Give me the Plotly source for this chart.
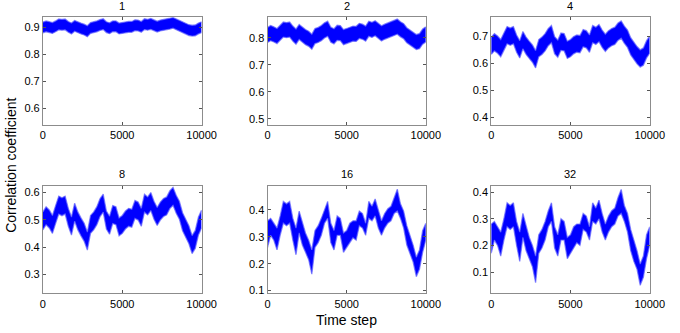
import plotly.graph_objects as go

# Time steps at which the envelope was read (every 200 steps)
steps = list(range(0, 10001, 200))

panel_titles = ["1", "2", "4", "8", "16", "32"]

lo_1 = [0.880,0.884,0.881,0.878,0.884,0.891,0.890,0.891,0.882,0.876,0.886,0.880,0.876,0.872,0.866,0.878,0.880,0.884,0.889,0.892,0.881,0.877,0.884,0.884,0.876,0.878,0.881,0.882,0.882,0.888,0.887,0.882,0.892,0.890,0.893,0.887,0.883,0.887,0.889,0.890,0.894,0.897,0.891,0.887,0.879,0.875,0.870,0.868,0.869,0.876,0.881]
hi_1 = [0.920,0.924,0.921,0.918,0.924,0.931,0.930,0.931,0.922,0.916,0.926,0.920,0.916,0.912,0.906,0.918,0.920,0.924,0.929,0.932,0.921,0.917,0.924,0.924,0.916,0.918,0.921,0.922,0.922,0.928,0.927,0.922,0.932,0.930,0.933,0.927,0.923,0.927,0.929,0.930,0.934,0.937,0.931,0.927,0.919,0.915,0.910,0.908,0.909,0.916,0.921]

lo_2 = [0.783,0.790,0.785,0.779,0.791,0.803,0.801,0.803,0.788,0.777,0.794,0.783,0.775,0.769,0.758,0.779,0.783,0.790,0.800,0.806,0.784,0.778,0.791,0.790,0.775,0.779,0.784,0.788,0.787,0.798,0.795,0.788,0.806,0.802,0.808,0.797,0.789,0.795,0.800,0.802,0.810,0.814,0.804,0.797,0.782,0.773,0.765,0.757,0.760,0.777,0.785]
hi_2 = [0.839,0.846,0.841,0.835,0.847,0.859,0.857,0.859,0.844,0.833,0.850,0.839,0.831,0.825,0.814,0.835,0.839,0.846,0.856,0.862,0.840,0.834,0.847,0.846,0.831,0.835,0.840,0.844,0.843,0.854,0.851,0.844,0.862,0.858,0.864,0.853,0.845,0.851,0.856,0.858,0.866,0.870,0.860,0.853,0.838,0.829,0.821,0.813,0.816,0.833,0.841]

lo_4 = [0.633,0.646,0.637,0.624,0.648,0.672,0.667,0.672,0.641,0.620,0.654,0.633,0.618,0.604,0.583,0.624,0.633,0.646,0.665,0.676,0.635,0.622,0.648,0.646,0.618,0.624,0.635,0.641,0.639,0.661,0.657,0.641,0.676,0.670,0.680,0.659,0.644,0.657,0.665,0.670,0.685,0.693,0.674,0.659,0.631,0.613,0.598,0.586,0.593,0.620,0.637]
hi_4 = [0.697,0.710,0.701,0.688,0.712,0.736,0.731,0.736,0.705,0.684,0.718,0.697,0.682,0.668,0.647,0.688,0.697,0.710,0.729,0.740,0.699,0.686,0.712,0.710,0.682,0.688,0.699,0.705,0.703,0.725,0.721,0.705,0.740,0.734,0.744,0.723,0.708,0.721,0.729,0.734,0.749,0.757,0.738,0.723,0.695,0.677,0.662,0.650,0.657,0.684,0.701]

lo_8 = [0.463,0.482,0.470,0.450,0.486,0.521,0.515,0.521,0.476,0.444,0.495,0.463,0.441,0.421,0.389,0.450,0.463,0.482,0.512,0.528,0.466,0.447,0.486,0.482,0.441,0.450,0.466,0.476,0.473,0.505,0.499,0.476,0.528,0.518,0.534,0.502,0.479,0.499,0.512,0.518,0.541,0.553,0.524,0.502,0.460,0.434,0.412,0.376,0.395,0.444,0.470]
hi_8 = [0.529,0.548,0.536,0.516,0.552,0.587,0.581,0.587,0.542,0.510,0.561,0.529,0.507,0.487,0.455,0.516,0.529,0.548,0.578,0.594,0.532,0.513,0.552,0.548,0.507,0.516,0.532,0.542,0.539,0.571,0.565,0.542,0.594,0.584,0.600,0.568,0.545,0.565,0.578,0.584,0.607,0.619,0.590,0.568,0.526,0.500,0.478,0.442,0.461,0.510,0.536]

lo_16 = [0.260,0.305,0.287,0.251,0.305,0.350,0.341,0.350,0.287,0.233,0.314,0.269,0.242,0.215,0.161,0.260,0.278,0.305,0.350,0.368,0.278,0.251,0.305,0.305,0.242,0.260,0.278,0.296,0.287,0.341,0.332,0.305,0.368,0.359,0.377,0.332,0.305,0.332,0.350,0.359,0.386,0.395,0.368,0.332,0.269,0.233,0.206,0.152,0.179,0.242,0.287]
hi_16 = [0.359,0.368,0.350,0.332,0.377,0.431,0.422,0.431,0.368,0.332,0.395,0.350,0.314,0.287,0.251,0.323,0.341,0.368,0.404,0.431,0.350,0.323,0.377,0.368,0.314,0.323,0.350,0.359,0.359,0.395,0.386,0.350,0.431,0.413,0.440,0.395,0.359,0.386,0.404,0.413,0.449,0.476,0.422,0.395,0.341,0.305,0.269,0.224,0.251,0.323,0.350]

lo_32 = [0.17,0.22,0.20,0.16,0.22,0.27,0.26,0.27,0.20,0.14,0.23,0.18,0.15,0.12,0.06,0.17,0.19,0.22,0.27,0.29,0.19,0.16,0.22,0.22,0.15,0.17,0.19,0.21,0.20,0.26,0.25,0.22,0.29,0.28,0.30,0.25,0.22,0.25,0.27,0.28,0.31,0.32,0.29,0.25,0.18,0.14,0.11,0.05,0.08,0.15,0.20]
hi_32 = [0.28,0.29,0.27,0.25,0.30,0.36,0.35,0.36,0.29,0.25,0.32,0.27,0.23,0.20,0.16,0.24,0.26,0.29,0.33,0.36,0.27,0.24,0.30,0.29,0.23,0.24,0.27,0.28,0.28,0.32,0.31,0.27,0.36,0.34,0.37,0.32,0.28,0.31,0.33,0.34,0.38,0.41,0.35,0.32,0.26,0.22,0.18,0.13,0.16,0.24,0.27]

y_ranges = [[0.54, 0.938], [0.478, 0.877], [0.372, 0.771], [0.23, 0.624], [0.09, 0.488], [0.02, 0.423]]
y_ticks = [[0.6, 0.7, 0.8, 0.9], [0.5, 0.6, 0.7, 0.8], [0.4, 0.5, 0.6, 0.7],
           [0.3, 0.4, 0.5, 0.6], [0.1, 0.2, 0.3, 0.4], [0.1, 0.2, 0.3, 0.4]]
x_ticks = [0, 5000, 10000]

lows = [lo_1, lo_2, lo_4, lo_8, lo_16, lo_32]
highs = [hi_1, hi_2, hi_4, hi_8, hi_16, hi_32]

W, H = 680, 333
x_doms = [[41 / W, 204 / W], [271.7 / W, 434.3 / W], [501.5 / W, 664.3 / W]]
y_doms = [[1 - 126 / H, 1 - 17.3 / H], [1 - 296 / H, 1 - 187.7 / H]]
title_y = [1 - 6 / H, 1 - 175.5 / H]

BLUE = "rgb(0,0,255)"
EDGE = "rgba(100,100,255,0.7)"
FONT = "Liberation Sans, Arial, Helvetica, sans-serif"

fig = go.Figure()
layout = dict(
    width=W, height=H,
    margin=dict(l=0, r=0, t=0, b=0),
    paper_bgcolor="white", plot_bgcolor="white",
    showlegend=False,
    font=dict(family=FONT, size=11, color="black"),
)
annotations = []

for i in range(6):
    r, c = divmod(i, 3)
    n = i + 1
    xa = "x" if n == 1 else f"x{n}"
    ya = "y" if n == 1 else f"y{n}"
    fig.add_trace(go.Scatter(x=steps, y=lows[i], mode="lines",
                             line=dict(color=EDGE, width=1.3),
                             xaxis=xa, yaxis=ya, hoverinfo="skip"))
    fig.add_trace(go.Scatter(x=steps, y=highs[i], mode="lines",
                             line=dict(color=EDGE, width=1.3),
                             fill="tonexty", fillcolor=BLUE,
                             xaxis=xa, yaxis=ya))
    axcommon = dict(showgrid=False, zeroline=False, showline=True,
                    linecolor="#8c8c8c", linewidth=1, mirror="ticks",
                    ticks="inside", ticklen=3, tickcolor="#555555",
                    tickfont=dict(family=FONT, size=11, color="black"))
    layout["xaxis" if n == 1 else f"xaxis{n}"] = dict(
        domain=x_doms[c], range=[0, 10000], tickvals=x_ticks,
        ticktext=[str(v) for v in x_ticks], anchor=ya, **axcommon)
    layout["yaxis" if n == 1 else f"yaxis{n}"] = dict(
        domain=y_doms[r], range=y_ranges[i], tickvals=y_ticks[i],
        ticktext=[f"{v:.1f}" for v in y_ticks[i]], anchor=xa, **axcommon)
    annotations.append(dict(text=panel_titles[i], xref="paper", yref="paper",
                            x=sum(x_doms[c]) / 2, y=title_y[r],
                            xanchor="center", yanchor="middle", showarrow=False,
                            font=dict(family=FONT, size=11, color="black")))

annotations.append(dict(text="Time step", xref="paper", yref="paper",
                        x=352.5 / W, y=1 - 323 / H, xanchor="center", yanchor="middle",
                        showarrow=False, font=dict(family=FONT, size=14, color="black")))
annotations.append(dict(text="Correlation coefficient", xref="paper", yref="paper",
                        x=8 / W, y=0.5, xanchor="center", yanchor="middle", textangle=-90,
                        showarrow=False, font=dict(family=FONT, size=14, color="black")))
layout["annotations"] = annotations
fig.update_layout(**layout)
fig.write_html("out.html", config={"displayModeBar": False},
               post_script="document.body.style.margin='0';document.body.style.overflow='hidden';")
